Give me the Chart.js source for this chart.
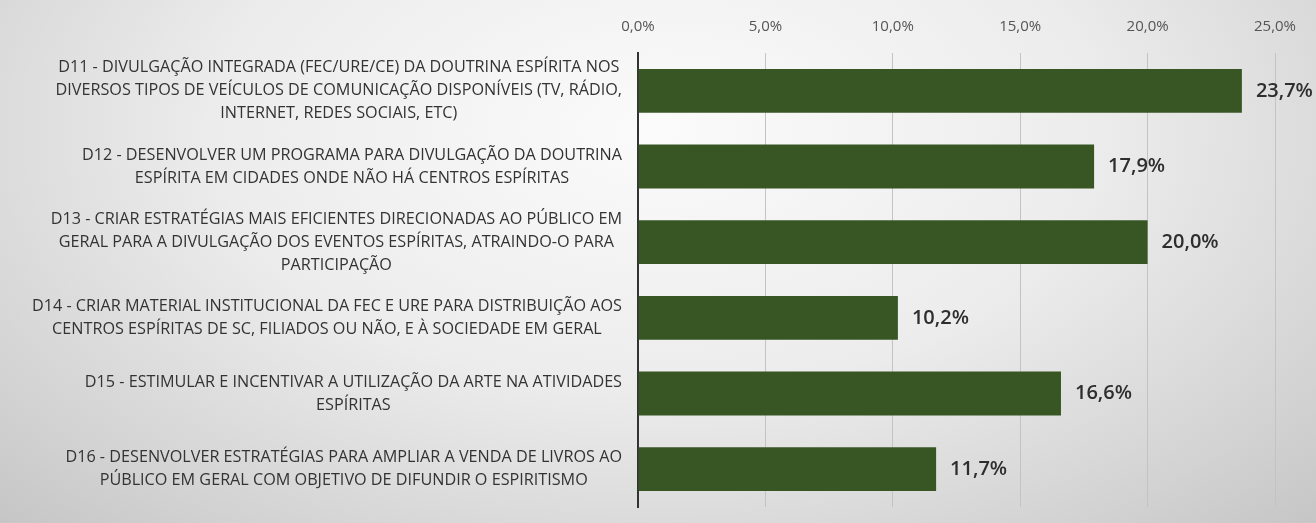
<!DOCTYPE html>
<html>
<head>
<meta charset="utf-8">
<script src="https://cdn.jsdelivr.net/npm/chart.js@4"></script>
<style>
  html, body { margin: 0; padding: 0; }
  body {
    width: 1316px; height: 523px; overflow: hidden;
    background: radial-gradient(ellipse 75% 110% at 50% 25%, #fbfbfb 0%, #ececec 45%, #d2d2d2 80%, #c2c2c2 100%);
  }
  canvas { display: block; }
</style>
</head>
<body>
<canvas id="chart" width="1316" height="523"></canvas>
<script>
// -------------------------
// DATA
// -------------------------
const categories = [
    ["D11 - DIVULGAÇÃO INTEGRADA (FEC/URE/CE) DA DOUTRINA ESPÍRITA NOS",
     "DIVERSOS TIPOS DE VEÍCULOS DE COMUNICAÇÃO DISPONÍVEIS (TV, RÁDIO,",
     "INTERNET, REDES SOCIAIS, ETC)"],
    ["D12 - DESENVOLVER UM PROGRAMA PARA DIVULGAÇÃO DA DOUTRINA",
     "ESPÍRITA EM CIDADES ONDE NÃO HÁ CENTROS ESPÍRITAS"],
    ["D13 - CRIAR ESTRATÉGIAS MAIS EFICIENTES DIRECIONADAS AO PÚBLICO EM",
     "GERAL PARA A DIVULGAÇÃO DOS EVENTOS ESPÍRITAS, ATRAINDO-O PARA",
     "PARTICIPAÇÃO"],
    ["D14 - CRIAR MATERIAL INSTITUCIONAL DA FEC E URE PARA DISTRIBUIÇÃO AOS",
     "CENTROS ESPÍRITAS DE SC, FILIADOS OU NÃO, E À SOCIEDADE EM GERAL"],
    ["D15 - ESTIMULAR E INCENTIVAR A UTILIZAÇÃO DA ARTE NA ATIVIDADES",
     "ESPÍRITAS"],
    ["D16 - DESENVOLVER ESTRATÉGIAS PARA AMPLIAR A VENDA DE LIVROS AO",
     "PÚBLICO EM GERAL COM OBJETIVO DE DIFUNDIR O ESPIRITISMO"]
];

const percentages = [23.7, 17.9, 20.0, 10.2, 16.6, 11.7];

const tickValues = [0, 5, 10, 15, 20, 25];

function fmt(v) {
    return v.toFixed(1).replace(".", ",") + "%";
}

// -------------------------
// PLUGINS
// -------------------------
// category labels: block right-aligned to the axis, lines centred inside the block
const categoryLabels = {
    id: "categoryLabels",
    afterDraw(chart) {
        const ctx = chart.ctx;
        const yScale = chart.scales.y;
        const right = 622;
        const lineH = 23;
        ctx.save();
        ctx.font = "16.2px 'Open Sans'";
        ctx.fillStyle = "#333333";
        ctx.textAlign = "center";
        ctx.textBaseline = "middle";
        categories.forEach((lines, i) => {
            const w = Math.max(...lines.map(l => ctx.measureText(l).width));
            const cx = right - w / 2;
            const cy = yScale.getPixelForValue(i);
            const top = cy - (lines.length - 1) * lineH / 2;
            lines.forEach((l, k) => ctx.fillText(l, cx, top + k * lineH));
        });
        ctx.restore();
    }
};

// value labels at the end of each bar
const valueLabels = {
    id: "valueLabels",
    afterDatasetsDraw(chart) {
        const ctx = chart.ctx;
        const meta = chart.getDatasetMeta(0);
        ctx.save();
        ctx.font = "600 20px 'Open Sans'";
        ctx.fillStyle = "#2e2e2e";
        ctx.textAlign = "left";
        ctx.textBaseline = "middle";
        meta.data.forEach((bar, i) => {
            ctx.fillText(fmt(percentages[i]), bar.x + 14, bar.y);
        });
        ctx.restore();
    }
};

// -------------------------
// CHART
// -------------------------
const ctx = document.getElementById("chart").getContext("2d");

new Chart(ctx, {
    type: "bar",
    data: {
        labels: categories,
        datasets: [{
            data: percentages,
            backgroundColor: "#375623",
            borderWidth: 0,
            categoryPercentage: 1,
            barPercentage: 0.58
        }]
    },
    options: {
        indexAxis: "y",
        responsive: false,
        animation: false,
        devicePixelRatio: 1,
        layout: {
            padding: { top: 1, bottom: 16, left: 638, right: 41 }
        },
        plugins: {
            legend: { display: false },
            tooltip: { enabled: false }
        },
        scales: {
            x: {
                position: "top",
                min: 0,
                max: 25,
                afterBuildTicks(scale) {
                    scale.ticks = tickValues.map(v => ({ value: v }));
                },
                ticks: {
                    callback: v => fmt(v),
                    color: "#555555",
                    font: { family: "'Open Sans'", size: 15 },
                    padding: 17,
                    maxRotation: 0
                },
                grid: {
                    color: "#c3c3c3",
                    lineWidth: 1,
                    drawTicks: false
                },
                border: { display: false }
            },
            y: {
                ticks: { display: false },
                grid: { display: false, drawTicks: false },
                border: { display: true, color: "#333333", width: 2 },
                afterFit(scale) {
                    scale.width = 0;
                }
            }
        }
    },
    plugins: [categoryLabels, valueLabels]
});
</script>
</body>
</html>
